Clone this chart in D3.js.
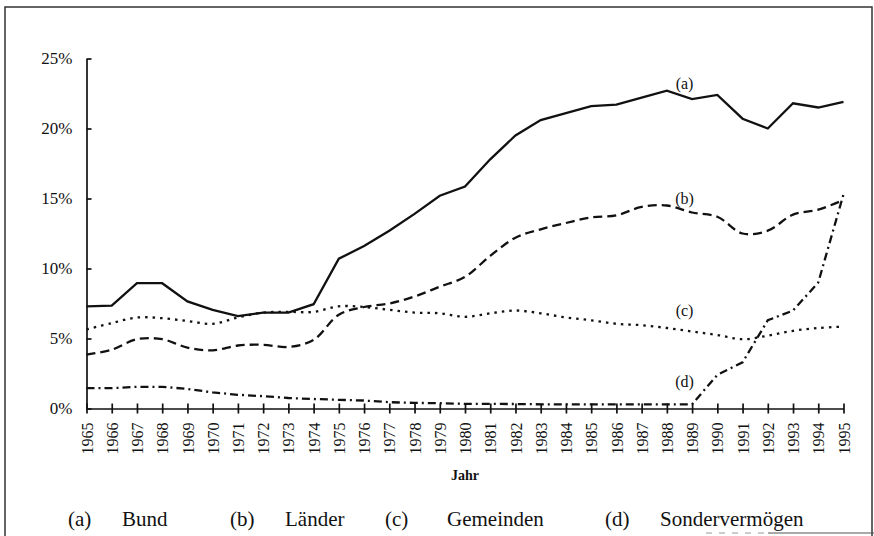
<!DOCTYPE html>
<html>
  <head>
    <meta http-equiv="Content-Type" content="text/html;charset=utf-8">
    <title>Anteile</title>
    <script src="https://cdn.jsdelivr.net/npm/d3@7"></script>
    <style type="text/css">
body {
    margin: 0;
    background: #fff;
}
svg {
    display: block;
    font-family: "Liberation Serif", "DejaVu Serif", serif;
}
.axis path, .axis line {
    stroke: #111;
    stroke-width: 1.7px;
}
.axis text {
    fill: #111;
}
.series {
    fill: none;
    stroke: #111;
    stroke-width: 2.3px;
}
.lbl, .legend text {
    fill: #111;
}
    </style>
  </head>
  <body>
    <script type="text/javascript">
// data
var years = d3.range(1965, 1996);
var yTicks = [0, 0.05, 0.10, 0.15, 0.20, 0.25];

var bund = [7.3, 7.35, 8.95, 8.95, 7.65, 7.05, 6.6, 6.85, 6.85, 7.45, 10.7, 11.6, 12.7, 13.9, 15.2, 15.85,
            17.8, 19.5, 20.6, 21.1, 21.6, 21.7, 22.2, 22.7, 22.1, 22.4, 20.7, 20.0, 21.8, 21.5, 21.9];
var laender = [3.85, 4.2, 4.95, 4.95, 4.35, 4.15, 4.5, 4.55, 4.4, 4.9, 6.7, 7.25, 7.5, 8.0, 8.7, 9.4,
               10.9, 12.2, 12.8, 13.25, 13.65, 13.8, 14.4, 14.5, 14.0, 13.7, 12.5, 12.7, 13.85, 14.2, 14.9];
var gemeinden = [5.65, 6.1, 6.5, 6.45, 6.25, 6.05, 6.5, 6.85, 6.9, 6.9, 7.3, 7.25, 7.05, 6.85, 6.8, 6.55,
                 6.8, 7.0, 6.8, 6.5, 6.3, 6.05, 5.95, 5.75, 5.5, 5.25, 4.95, 5.2, 5.55, 5.75, 5.85];
var sonder = [1.45, 1.45, 1.55, 1.55, 1.4, 1.15, 0.98, 0.88, 0.75, 0.68, 0.62, 0.57, 0.45, 0.4, 0.38, 0.33,
              0.33, 0.32, 0.3, 0.3, 0.3, 0.3, 0.3, 0.3, 0.3, 2.4, 3.3, 6.3, 7.0, 9.0, 15.3];

var seriesNames = ['(a)', '(b)', '(c)', '(d)'];
var legendNames = ['Bund', 'L\u00e4nder', 'Gemeinden', 'Sonderverm\u00f6gen'];

// chart
var w = 874,
    h = 536;

var svg = d3.select('body').append('svg')
    .attr('width', w)
    .attr('height', h);

// frame around the figure
svg.append('rect')
    .attr('x', 5)
    .attr('y', 7)
    .attr('width', 867)
    .attr('height', 540)
    .attr('fill', 'none')
    .attr('stroke', '#333')
    .attr('stroke-width', 1.5);

var x = d3.scaleLinear().domain([1965, 1995]).range([86.5, 843.5]);
var y = d3.scaleLinear().domain([0, 0.25]).range([408.5, 58.5]);

var serif = '"Liberation Serif", "DejaVu Serif", serif';

var xAxis = svg.append('g')
    .attr('class', 'axis')
    .attr('transform', 'translate(0,' + y(0) + ')')
    .call(d3.axisBottom(x).tickValues(years).tickFormat(d3.format('d'))
        .tickSizeInner(5).tickSizeOuter(0).tickPadding(8))
    .attr('font-family', serif);
xAxis.selectAll('.tick line').attr('y1', -5);
xAxis.selectAll('.tick text')
    .attr('font-size', 16)
    .attr('transform', 'rotate(-90)')
    .attr('text-anchor', 'end')
    .attr('x', -14)
    .attr('y', 0)
    .attr('dy', '0.35em');

var yAxis = svg.append('g')
    .attr('class', 'axis')
    .attr('transform', 'translate(' + x(1965) + ',0)')
    .call(d3.axisLeft(y).tickValues(yTicks).tickFormat(d3.format('.0%'))
        .tickSizeInner(5).tickSizeOuter(0).tickPadding(9))
    .attr('font-family', serif);
yAxis.selectAll('.tick line').attr('x2', 5);
yAxis.selectAll('.tick text').attr('font-size', 17);
svg.selectAll('.axis .domain').attr('fill', 'none');

svg.append('text')
    .attr('x', 465)
    .attr('y', 480)
    .attr('text-anchor', 'middle')
    .attr('font-size', 14)
    .attr('font-weight', 'bold')
    .attr('fill', '#111')
    .text('Jahr');

// lines
var series = [
    { vals: bund, dash: null, curve: d3.curveLinear, lx: 1988.7, ly: 22.8 },
    { vals: laender, dash: '9,5', curve: d3.curveCatmullRom, lx: 1988.7, ly: 14.6 },
    { vals: gemeinden, dash: '2.5,5', curve: d3.curveCatmullRom, lx: 1988.7, ly: 6.6 },
    { vals: sonder, dash: '8,4,2,4', curve: d3.curveLinear, lx: 1988.7, ly: 1.55 }
];

series.forEach(function(s, i) {
    var line = d3.line()
        .x(function(d, j) { return x(years[j]) })
        .y(function(d) { return y(d / 100) })
        .curve(s.curve);
    svg.append('path')
        .datum(s.vals)
        .attr('class', 'series')
        .attr('stroke-dasharray', s.dash)
        .attr('d', line);
    svg.append('text')
        .attr('class', 'lbl')
        .attr('x', x(s.lx))
        .attr('y', y(s.ly / 100))
        .attr('text-anchor', 'middle')
        .attr('font-size', 16)
        .text(seriesNames[i]);
});

// legend
var legendX = [[68, 122], [230, 285], [385, 447], [605, 660]];
var legend = svg.append('g').attr('class', 'legend');
legendNames.forEach(function(n, i) {
    legend.append('text')
        .attr('x', legendX[i][0])
        .attr('y', 526)
        .attr('font-size', 21)
        .text(seriesNames[i]);
    legend.append('text')
        .attr('x', legendX[i][1])
        .attr('y', 526)
        .attr('font-size', 21)
        .text(n);
});

// rule at the bottom right edge
svg.append('line')
    .attr('x1', 706).attr('x2', 768)
    .attr('y1', 533).attr('y2', 533)
    .attr('stroke', '#999')
    .attr('stroke-dasharray', '6,7');
svg.append('line')
    .attr('x1', 768).attr('x2', 874)
    .attr('y1', 533).attr('y2', 533)
    .attr('stroke', '#555')
    .attr('stroke-width', 1.2);
    </script>
  </body>
</html>
